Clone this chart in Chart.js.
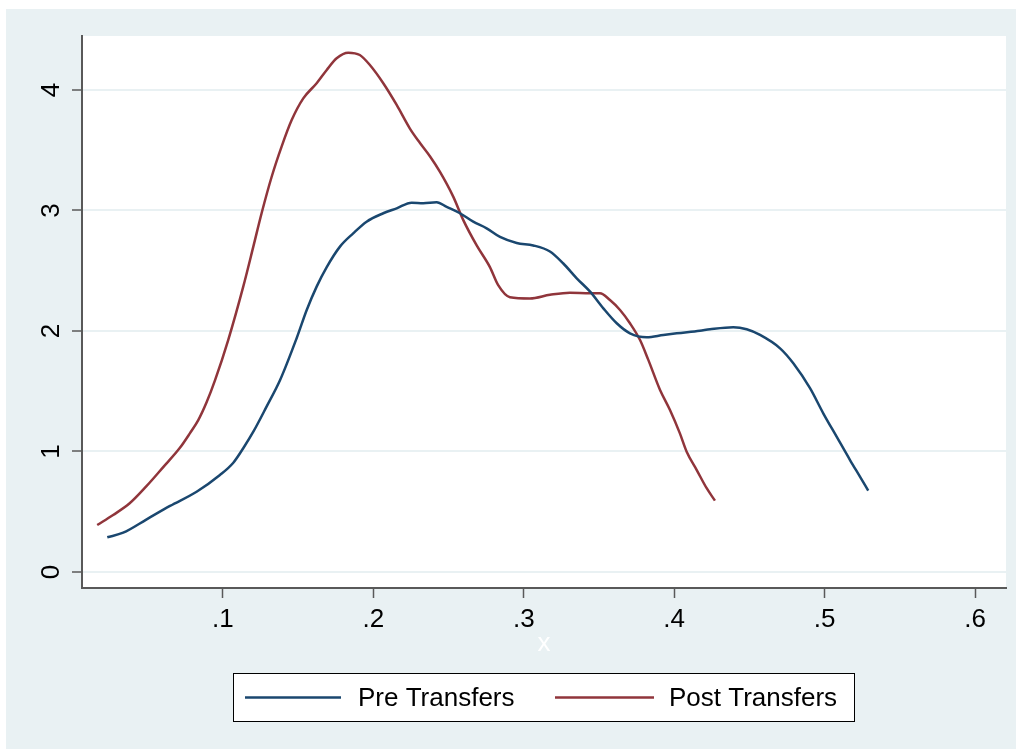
<!DOCTYPE html>
<html>
<head>
<meta charset="utf-8">
<script src="https://cdn.jsdelivr.net/npm/chart.js@4"></script>
<style>
  html, body { margin: 0; padding: 0; background: #ffffff; }
  #wrap { width: 1021px; height: 749px; position: relative; }
</style>
</head>
<body>
<div id="wrap"><canvas id="kdens" width="1021" height="749"></canvas></div>
<script>
// kernel density estimates
const preX = [0.0231, 0.0337, 0.0493, 0.0648, 0.0825, 0.098, 0.1069, 0.1135, 0.1202, 0.129, 0.138, 0.149, 0.1557, 0.1623, 0.169, 0.1778, 0.1866, 0.1955, 0.2066, 0.2155, 0.2255, 0.2332, 0.2421, 0.2487, 0.2576, 0.2664, 0.2753, 0.2842, 0.2953, 0.3063, 0.3174, 0.3263, 0.3352, 0.3441, 0.3529, 0.3618, 0.3706, 0.3817, 0.3928, 0.4017, 0.4171, 0.4238, 0.4393, 0.4482, 0.4571, 0.4704, 0.4792, 0.4903, 0.4991, 0.508, 0.5169, 0.5235, 0.529];
const preY = [0.288, 0.326, 0.437, 0.548, 0.666, 0.805, 0.907, 1.027, 1.164, 1.372, 1.593, 1.94, 2.174, 2.368, 2.53, 2.70, 2.81, 2.907, 2.977, 3.018, 3.065, 3.06, 3.068, 3.03, 2.977, 2.907, 2.852, 2.78, 2.73, 2.71, 2.66, 2.56, 2.437, 2.326, 2.188, 2.064, 1.981, 1.948, 1.967, 1.981, 2.002, 2.014, 2.031, 2.014, 1.967, 1.856, 1.732, 1.525, 1.317, 1.123, 0.929, 0.791, 0.675];

const postX = [0.0164, 0.027, 0.038, 0.049, 0.0603, 0.0714, 0.078, 0.0836, 0.0892, 0.0947, 0.1035, 0.1135, 0.1202, 0.1257, 0.1324, 0.139, 0.1457, 0.1534, 0.1623, 0.169, 0.1756, 0.1833, 0.191, 0.1977, 0.2066, 0.2155, 0.2243, 0.231, 0.2376, 0.2443, 0.2531, 0.2598, 0.2687, 0.2775, 0.283, 0.2908, 0.3041, 0.3174, 0.3307, 0.344, 0.3506, 0.3573, 0.364, 0.3706, 0.3773, 0.3828, 0.3906, 0.3972, 0.4038, 0.4083, 0.415, 0.4216, 0.4271];
const postY = [0.39, 0.473, 0.57, 0.71, 0.87, 1.03, 1.15, 1.26, 1.41, 1.59, 1.925, 2.368, 2.70, 2.977, 3.28, 3.53, 3.75, 3.93, 4.056, 4.166, 4.263, 4.31, 4.29, 4.207, 4.056, 3.876, 3.68, 3.56, 3.45, 3.32, 3.115, 2.92, 2.71, 2.53, 2.38, 2.28, 2.27, 2.30, 2.318, 2.313, 2.313, 2.257, 2.174, 2.064, 1.925, 1.76, 1.51, 1.344, 1.15, 0.998, 0.846, 0.695, 0.592];

const seriesNames = ['Pre Transfers', 'Post Transfers'];
const xTicks = [0.1, 0.2, 0.3, 0.4, 0.5, 0.6];
const xTickLabels = ['.1', '.2', '.3', '.4', '.5', '.6'];
const yTicks = [0, 1, 2, 3, 4];
const yTickLabels = ['0', '1', '2', '3', '4'];

const NAVY = '#1a476f';
const MAROON = '#90353b';
const BG = '#e9f1f3';
const AXIS = '#595959';
const FONT = { family: "'Liberation Sans', Arial, sans-serif", size: 26 };

const toPoints = (xs, ys) => xs.map((x, i) => ({ x: x, y: ys[i] }));

// graph region + plot region backgrounds
const backdrop = {
    id: 'backdrop',
    beforeDraw(chart) {
        const ctx = chart.ctx;
        const a = chart.chartArea;
        ctx.save();
        ctx.fillStyle = '#ffffff';
        ctx.fillRect(0, 0, chart.width, chart.height);
        ctx.fillStyle = BG;
        ctx.fillRect(6, 9, 1010, 740);
        ctx.fillStyle = '#ffffff';
        ctx.fillRect(a.left, a.top, a.right - a.left, a.bottom - a.top);
        ctx.restore();
    }
};

// Stata-style boxed legend under the plot
const boxLegend = {
    id: 'boxLegend',
    afterDraw(chart) {
        const ctx = chart.ctx;
        ctx.save();
        ctx.fillStyle = '#ffffff';
        ctx.fillRect(233.5, 673.5, 621, 48);
        ctx.strokeStyle = '#000000';
        ctx.lineWidth = 1;
        ctx.strokeRect(233.5, 673.5, 621, 48);
        const items = [
            { x0: 245, x1: 341, tx: 358 },
            { x0: 555, x1: 654, tx: 669 }
        ];
        const yMid = 697.5;
        chart.data.datasets.forEach((ds, i) => {
            const it = items[i];
            ctx.strokeStyle = ds.borderColor;
            ctx.lineWidth = 2.5;
            ctx.beginPath();
            ctx.moveTo(it.x0, yMid);
            ctx.lineTo(it.x1, yMid);
            ctx.stroke();
            ctx.fillStyle = '#000000';
            ctx.font = FONT.size + 'px ' + FONT.family;
            ctx.textBaseline = 'middle';
            ctx.textAlign = 'left';
            ctx.fillText(ds.label, it.tx, yMid + 1);
        });
        ctx.restore();
    }
};

new Chart(document.getElementById('kdens'), {
    type: 'scatter',
    data: {
        datasets: [
            {
                label: seriesNames[0],
                data: toPoints(preX, preY),
                showLine: true,
                borderColor: NAVY,
                backgroundColor: NAVY,
                borderWidth: 2.5,
                pointRadius: 0,
                cubicInterpolationMode: 'monotone'
            },
            {
                label: seriesNames[1],
                data: toPoints(postX, postY),
                showLine: true,
                borderColor: MAROON,
                backgroundColor: MAROON,
                borderWidth: 2.5,
                pointRadius: 0,
                cubicInterpolationMode: 'monotone'
            }
        ]
    },
    options: {
        responsive: false,
        animation: false,
        layout: { padding: { left: 6, top: 36, right: 15, bottom: 90 } },
        plugins: {
            legend: { display: false },
            tooltip: { enabled: false }
        },
        scales: {
            x: {
                type: 'linear',
                min: 0.0063,
                max: 0.6206,
                afterBuildTicks: (s) => { s.ticks = xTicks.map(v => ({ value: v })); },
                afterFit: (s) => { s.height = 71; },
                ticks: {
                    callback: (v, i) => xTickLabels[i],
                    color: '#000000',
                    font: FONT,
                    padding: 6,
                    maxRotation: 0,
                    autoSkip: false
                },
                grid: { drawOnChartArea: false, tickLength: 10, tickColor: AXIS, tickWidth: 1.5 },
                border: { color: AXIS, width: 2 },
                title: { display: true, text: 'x', color: '#ffffff', font: FONT, padding: 0 }
            },
            y: {
                type: 'linear',
                min: -0.133,
                max: 4.448,
                afterBuildTicks: (s) => { s.ticks = yTicks.map(v => ({ value: v })); },
                afterFit: (s) => { s.width = 76; },
                ticks: {
                    callback: (v, i) => yTickLabels[i],
                    color: '#000000',
                    font: FONT,
                    minRotation: 90,
                    maxRotation: 90,
                    crossAlign: 'center',
                    padding: 13,
                    autoSkip: false
                },
                grid: { color: BG, lineWidth: 2, tickLength: 10, tickColor: AXIS, tickWidth: 1.5 },
                border: { color: AXIS, width: 2 }
            }
        }
    },
    plugins: [backdrop, boxLegend]
});
</script>
</body>
</html>
